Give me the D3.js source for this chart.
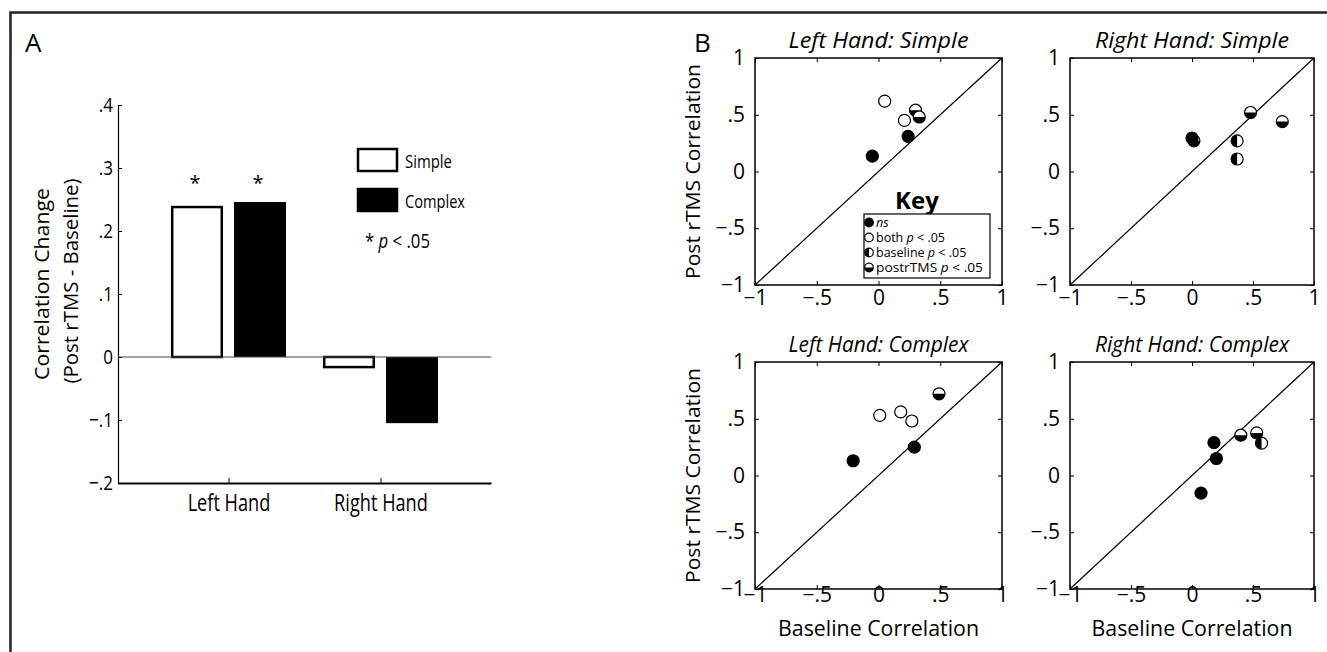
<!DOCTYPE html>
<html>
<head>
<meta charset="utf-8">
<script src="https://cdn.jsdelivr.net/npm/d3@7"></script>
<style>
  body { margin: 0; background: #fff; }
  text { font-family: "Open Sans", sans-serif; fill: #000; }
</style>
</head>
<body>
<div id="chart"></div>
<script>
// panel A: correlation change per hand
const groups = ['Left Hand', 'Right Hand'];
const conditions = ['Simple', 'Complex'];
const simpleChange = [0.238, -0.016];
const complexChange = [0.246, -0.105];
const significant = [[true, true], [false, false]];
const barTicks = [-0.2, -0.1, 0, 0.1, 0.2, 0.3, 0.4];

// panel B: baseline vs post rTMS correlation per subject
const lhSimpleBase = [0.05, 0.21, 0.30, 0.33, 0.24, -0.05];
const lhSimplePost = [0.62, 0.45, 0.54, 0.48, 0.31, 0.135];
const lhSimpleSig = ['both', 'both', 'post', 'post', 'ns', 'ns'];

const rhSimpleBase = [0.016, 0.0, 0.37, 0.37, 0.48, 0.74];
const rhSimplePost = [0.27, 0.295, 0.27, 0.11, 0.52, 0.44];
const rhSimpleSig = ['post', 'ns', 'baseline', 'baseline', 'post', 'post'];

const lhComplexBase = [0.01, 0.18, 0.27, 0.49, 0.29, -0.205];
const lhComplexPost = [0.53, 0.56, 0.48, 0.72, 0.25, 0.13];
const lhComplexSig = ['both', 'both', 'both', 'post', 'ns', 'ns'];

const rhComplexBase = [0.18, 0.20, 0.074, 0.40, 0.57, 0.53];
const rhComplexPost = [0.29, 0.15, -0.155, 0.355, 0.285, 0.375];
const rhComplexSig = ['ns', 'ns', 'ns', 'post', 'baseline', 'post'];

const scatterTicks = [-1, -0.5, 0, 0.5, 1];
const keyLabels = [['ns', ''], ['both ', ' < .05'], ['baseline ', ' < .05'], ['postrTMS ', ' < .05']];
const keyTypes = ['ns', 'both', 'baseline', 'post'];

const width = 1327, height = 652;
const svg = d3.select('#chart').append('svg')
    .attr('width', width)
    .attr('height', height);

const fit = (sel, w) => sel.attr('textLength', w).attr('lengthAdjust', 'spacingAndGlyphs');
const squish = (sel, k) => sel.each(function () {
    d3.select(this).attr('textLength', this.getComputedTextLength() * k).attr('lengthAdjust', 'spacingAndGlyphs');
});
const stripZero = d => d === 0 ? '0' : d3.format('.1f')(d).replace('0.', '.').replace('.0', '');

// outer frame (left + top edges only are in view)
svg.append('path')
    .attr('d', `M10.5,${height} V12.5 H${width}`)
    .attr('fill', 'none')
    .attr('stroke', '#222')
    .attr('stroke-width', 2.5);

// ---------------- Panel A ----------------
const a = svg.append('g');
a.append('text').attr('x', 25).attr('y', 52).style('font-size', '26px').text('A');

const y = d3.scaleLinear().domain([-0.2, 0.4]).range([483, 105]);
const x0 = d3.scalePoint().domain(groups).range([118, 491]).padding(0.727);
const x1 = d3.scaleBand().domain(conditions).range([-57.5, 57.5]).paddingInner(0.175);

const yAxis = a.append('g')
    .attr('transform', 'translate(118,0)')
    .call(d3.axisLeft(y).tickValues(barTicks).tickFormat(stripZero).tickSizeInner(-4).tickSizeOuter(0).tickPadding(5));
yAxis.select('.domain').attr('stroke-width', 1.2);
yAxis.selectAll('text').style('font-size', '20px').style('font-family', '"Open Sans", sans-serif').call(squish, 0.85);

const xAxis = a.append('g')
    .attr('transform', 'translate(0,483)')
    .call(d3.axisBottom(x0).tickSizeInner(-5).tickSizeOuter(0).tickPadding(12));
xAxis.select('.domain').attr('stroke-width', 2);
xAxis.selectAll('text').style('font-size', '23px').style('font-family', '"Open Sans", sans-serif')
    .attr('dy', '0.71em').call(squish, 0.79);

const barData = groups.flatMap((g, i) => [
    {group: g, cond: 'Simple', value: simpleChange[i], sig: significant[i][0]},
    {group: g, cond: 'Complex', value: complexChange[i], sig: significant[i][1]}
]);

a.selectAll('rect.bar')
    .data(barData)
    .join('rect')
    .attr('class', 'bar')
    .attr('x', d => x0(d.group) + x1(d.cond) + (d.cond === 'Simple' ? 1.2 : 0))
    .attr('width', d => x1.bandwidth() - (d.cond === 'Simple' ? 2.4 : 0))
    .attr('y', d => y(Math.max(0, d.value)))
    .attr('height', d => Math.abs(y(d.value) - y(0)))
    .attr('fill', d => d.cond === 'Simple' ? '#fff' : '#000')
    .attr('stroke', '#000')
    .attr('stroke-width', d => d.cond === 'Simple' ? 2.5 : 0);

// zero line
a.append('line')
    .attr('x1', 118).attr('x2', 491)
    .attr('y1', y(0)).attr('y2', y(0))
    .attr('stroke', '#444').attr('stroke-width', 1.2);

a.selectAll('text.star')
    .data(barData.filter(d => d.sig))
    .join('text')
    .attr('class', 'star')
    .attr('x', d => x0(d.group) + x1(d.cond) + x1.bandwidth() / 2 - 2)
    .attr('y', 190)
    .attr('text-anchor', 'middle')
    .style('font-size', '20px')
    .text('*');

// legend A
const legA = a.append('g');
conditions.forEach((c, i) => {
    legA.append('rect')
        .attr('x', 358).attr('y', 149 + i * 40)
        .attr('width', 39).attr('height', 22)
        .attr('fill', c === 'Simple' ? '#fff' : '#000')
        .attr('stroke', '#000').attr('stroke-width', 2.5);
    legA.append('text')
        .attr('x', 405).attr('y', 168 + i * 40)
        .style('font-size', '19px')
        .text(c)
        .call(fit, c === 'Simple' ? 47 : 60);
});
const pNote = legA.append('text').attr('x', 365).attr('y', 248).style('font-size', '20px');
pNote.append('tspan').text('* ');
pNote.append('tspan').style('font-style', 'italic').text('p');
pNote.append('tspan').text(' < .05');
fit(pNote, 65);

// y label A
a.append('text')
    .attr('transform', 'translate(49,284) rotate(-90)')
    .attr('text-anchor', 'middle')
    .style('font-size', '20px')
    .text('Correlation Change')
    .call(fit, 192);
a.append('text')
    .attr('transform', 'translate(78,281) rotate(-90)')
    .attr('text-anchor', 'middle')
    .style('font-size', '20px')
    .text('(Post rTMS - Baseline)')
    .call(fit, 205);

// ---------------- Panel B ----------------
svg.append('text').attr('x', 694).attr('y', 52).style('font-size', '26px').text('B');

const panels = [
    {title: 'Left Hand: Simple', base: lhSimpleBase, post: lhSimplePost, sig: lhSimpleSig, col: 0, row: 0},
    {title: 'Right Hand: Simple', base: rhSimpleBase, post: rhSimplePost, sig: rhSimpleSig, col: 1, row: 0},
    {title: 'Left Hand: Complex', base: lhComplexBase, post: lhComplexPost, sig: lhComplexSig, col: 0, row: 1},
    {title: 'Right Hand: Complex', base: rhComplexBase, post: rhComplexPost, sig: rhComplexSig, col: 1, row: 1}
];
const colX = [[755, 1002], [1070, 1314]];
const rowY = [[285, 58], [589, 362]];
const labelPad = [5, -2];

const r = 6;
const halfArc = (start, end, rad) => d3.arc()({innerRadius: 0, outerRadius: rad, startAngle: start, endAngle: end});
const drawMarker = (g, type, rad) => {
    g.append('circle').attr('r', rad).attr('fill', type === 'ns' ? '#000' : '#fff')
        .attr('stroke', '#000').attr('stroke-width', 1.2);
    if (type === 'post') g.append('path').attr('d', halfArc(Math.PI / 2, Math.PI * 1.5, rad)).attr('fill', '#000');
    if (type === 'baseline') g.append('path').attr('d', halfArc(Math.PI, Math.PI * 2, rad)).attr('fill', '#000');
};

const fmtB = d => d === 0 ? '0' : (d < 0 ? '\u2212' : '') + String(Math.abs(d)).replace('0.', '.');

panels.forEach(p => {
    const g = svg.append('g');
    const sx = d3.scaleLinear().domain([-1, 1]).range(colX[p.col]);
    const sy = d3.scaleLinear().domain([-1, 1]).range(rowY[p.row]);
    const [xl, xr] = sx.range();
    const [yb, yt] = sy.range();

    const axes = [
        g.append('g').attr('transform', `translate(${xl},0)`)
            .call(d3.axisLeft(sy).tickValues(scatterTicks).tickFormat(fmtB).tickSizeInner(-4).tickSizeOuter(0).tickPadding(10)),
        g.append('g').attr('transform', `translate(0,${yb})`)
            .call(d3.axisBottom(sx).tickValues(scatterTicks).tickFormat(fmtB).tickSizeInner(-4).tickSizeOuter(0).tickPadding(labelPad[p.row])),
        g.append('g').attr('transform', `translate(${xr},0)`)
            .call(d3.axisRight(sy).tickValues(scatterTicks).tickFormat('').tickSizeInner(-4).tickSizeOuter(0)),
        g.append('g').attr('transform', `translate(0,${yt})`)
            .call(d3.axisTop(sx).tickValues(scatterTicks).tickFormat('').tickSizeInner(-4).tickSizeOuter(0))
    ];
    axes.forEach(ax => {
        ax.select('.domain').remove();
        ax.selectAll('text').style('font-size', '21px').style('font-family', '"Open Sans", sans-serif');
    });

    g.append('rect')
        .attr('x', xl).attr('y', yt)
        .attr('width', xr - xl).attr('height', yb - yt)
        .attr('fill', 'none').attr('stroke', '#000').attr('stroke-width', 1.5);

    g.append('line')
        .attr('x1', sx(-1)).attr('y1', sy(-1))
        .attr('x2', sx(1)).attr('y2', sy(1))
        .attr('stroke', '#000').attr('stroke-width', 1.2);

    g.append('text')
        .attr('x', (xl + xr) / 2).attr('y', p.row === 0 ? 48 : 352)
        .attr('text-anchor', 'middle')
        .style('font-size', '22px').style('font-style', 'italic')
        .text(p.title)
        .call(fit, p.col === 0 ? 180 : 194);

    p.base.forEach((b, i) => {
        const m = g.append('g').attr('transform', `translate(${sx(b)},${sy(p.post[i])})`);
        drawMarker(m, p.sig[i], r);
    });

    if (p.col === 0) {
        g.append('text')
            .attr('transform', `translate(700,${(yt + yb) / 2}) rotate(-90)`)
            .attr('text-anchor', 'middle')
            .style('font-size', '20px')
            .text('Post rTMS Correlation')
            .call(fit, 215);
    }
    if (p.row === 1) {
        g.append('text')
            .attr('x', (xl + xr) / 2).attr('y', 636)
            .attr('text-anchor', 'middle')
            .style('font-size', '21px')
            .text('Baseline Correlation')
            .call(fit, 201);
    }
});

// key (in first panel)
const key = svg.append('g');
key.append('text').attr('x', 917).attr('y', 209).attr('text-anchor', 'middle')
    .style('font-size', '24px').style('font-weight', 'bold').text('Key');
key.append('rect').attr('x', 864).attr('y', 214).attr('width', 126).attr('height', 64)
    .attr('fill', '#fff').attr('stroke', '#000').attr('stroke-width', 1.2);
keyTypes.forEach((t, i) => {
    const cy = 222.5 + i * 15;
    drawMarker(key.append('g').attr('transform', `translate(869,${cy})`), t, 4.3);
    const tx = key.append('text').attr('x', 876).attr('y', cy + 4.3).style('font-size', '12.5px');
    if (t === 'ns') {
        tx.append('tspan').style('font-style', 'italic').text(keyLabels[i][0]);
    } else {
        tx.append('tspan').text(keyLabels[i][0]);
        tx.append('tspan').style('font-style', 'italic').text('p');
        tx.append('tspan').text(keyLabels[i][1]);
        if (t === 'post') fit(tx, 107);
    }
});
</script>
</body>
</html>
